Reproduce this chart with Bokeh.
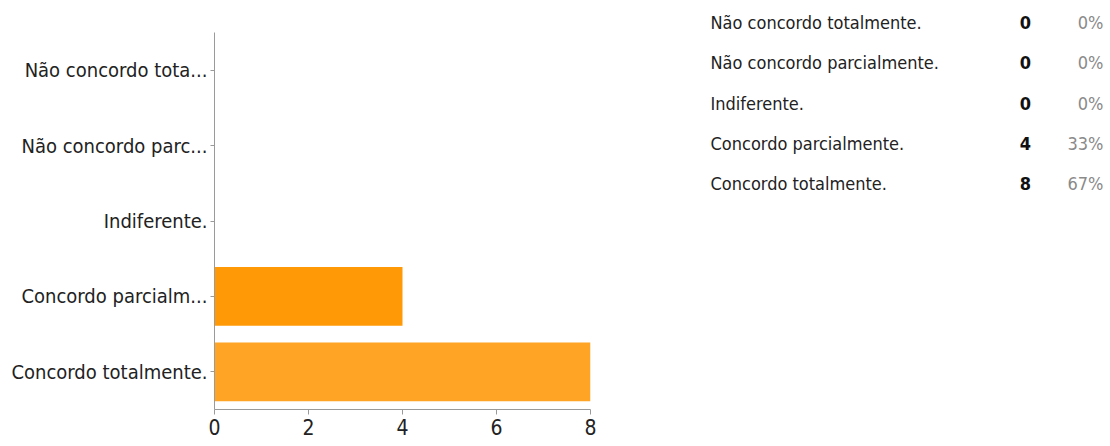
from bokeh.plotting import figure
from bokeh.layouts import row, column
from bokeh.models import Range1d, FactorRange, ColumnDataSource
from bokeh.core.properties import value
from bokeh.embed import file_html
from bokeh.resources import INLINE

# ---- data ----
categories = ["Não concordo totalmente.", "Não concordo parcialmente.", "Indiferente.",
              "Concordo parcialmente.", "Concordo totalmente."]
axis_labels = ["Não concordo tota...", "Não concordo parc...", "Indiferente.",
               "Concordo parcialm...", "Concordo totalmente."]
counts = [0, 0, 0, 4, 8]
percents = ["0%", "0%", "0%", "33%", "67%"]
x_ticks = [0, 2, 4, 6, 8]

FONT = "DejaVu Sans Condensed, Liberation Sans"
bar_colors = ["#ff9900", "#ff9900", "#ff9900", "#ff9a06", "#ffa424"]

# ---- bar chart ----
p = figure(width=610, height=446,
           x_range=Range1d(0, 8),
           y_range=FactorRange(factors=list(reversed(axis_labels))),
           output_backend="svg", toolbar_location=None,
           min_border_left=214, min_border_top=32, min_border_right=20, min_border_bottom=37)

src = ColumnDataSource(dict(y=axis_labels, right=counts, color=bar_colors))
p.hbar(y="y", left=0, right="right", height=0.78, fill_color="color", line_color=None, source=src)

p.xgrid.visible = False
p.ygrid.visible = False
p.outline_line_color = None
p.background_fill_color = "white"
p.border_fill_color = "white"

for ax in (p.xaxis, p.yaxis):
    ax.axis_line_color = "#9a9a9a"
    ax.major_tick_line_color = "#9a9a9a"
    ax.minor_tick_line_color = None
    ax.major_tick_in = 0
    ax.major_label_text_font = FONT
    ax.major_label_text_color = "#222222"

p.xaxis.ticker = x_ticks
p.xaxis.major_tick_out = 5
p.xaxis.major_label_text_font_size = "21px"
p.xaxis.major_label_standoff = 4
p.yaxis.major_tick_out = 4
p.yaxis.major_label_text_font_size = "20px"
p.yaxis.major_label_standoff = 3

# ---- summary table ----
t = figure(width=500, height=446,
           x_range=Range1d(0, 500), y_range=Range1d(10.534, -0.547),
           output_backend="svg", toolbar_location=None,
           min_border=0)
t.axis.visible = False
t.xgrid.visible = False
t.ygrid.visible = False
t.outline_line_color = None

rows = list(range(len(categories)))
tsrc = ColumnDataSource(dict(row=rows, cat=categories,
                             cnt=[str(c) for c in counts], pct=percents))
t.text(x=100, y="row", text="cat", source=tsrc, text_baseline="middle", text_align="left",
       text_font=value(FONT), text_font_size="18px", text_color="#222222")
t.text(x=415, y="row", text="cnt", source=tsrc, text_baseline="middle", text_align="center",
       text_font=value(FONT), text_font_size="18px", text_font_style="bold", text_color="#111111")
t.text(x=493, y="row", text="pct", source=tsrc, text_baseline="middle", text_align="right",
       text_font=value(FONT), text_font_size="18px", text_color="#8a8a8a")

layout = row(p, column(t))
open("out.html", "w").write(file_html(layout, INLINE))
